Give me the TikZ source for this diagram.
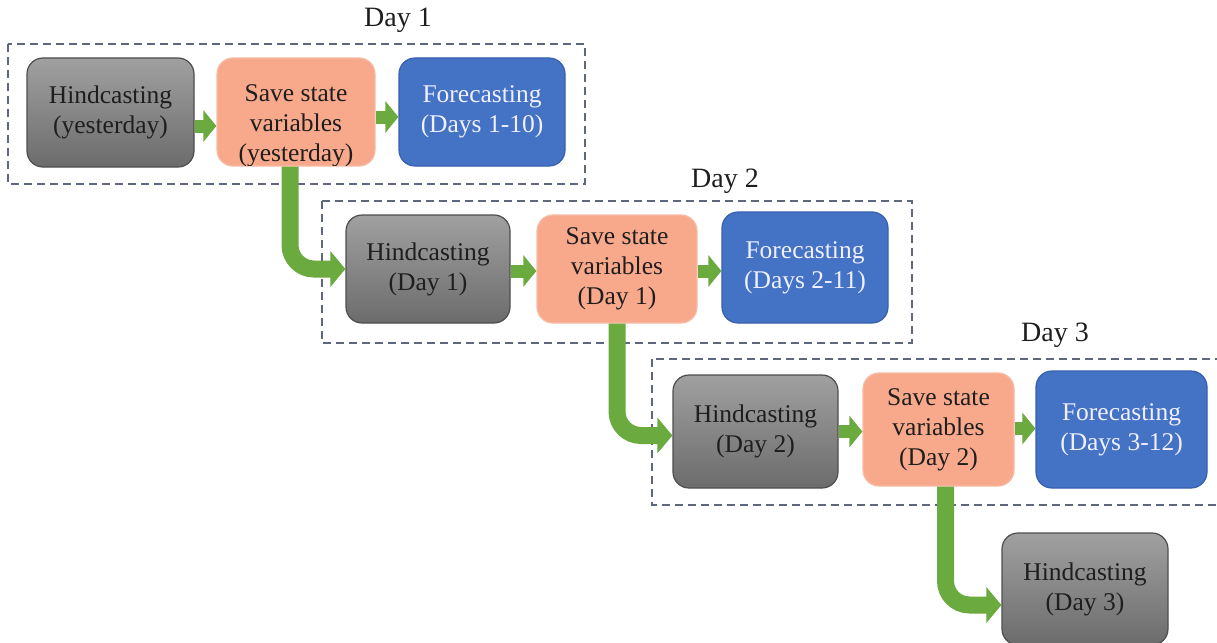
\documentclass[tikz,border=0pt]{standalone}
\usepackage{fontspec}
\setmainfont{Liberation Serif}
\usetikzlibrary{arrows.meta}

\definecolor{hindtop}{HTML}{A0A0A0}
\definecolor{hindbot}{HTML}{6C6C6C}
\definecolor{hindline}{HTML}{4E4E4E}
\definecolor{savefill}{HTML}{F8A98B}
\definecolor{saveline}{HTML}{F6BCA4}
\definecolor{forefill}{HTML}{4472C4}
\definecolor{foreline}{HTML}{3560AE}
\definecolor{flowgreen}{HTML}{6BAA3F}
\definecolor{frameline}{HTML}{5E6680}
\definecolor{inktext}{HTML}{1E1E1E}

\tikzset{
  box/.style={rounded corners=16pt, line width=1.2pt, align=center, inner sep=0pt,
    font=\fontsize{25.5}{30}\selectfont, text=inktext},
  hind/.style={box, draw=hindline, top color=hindtop, bottom color=hindbot},
  save/.style={box, draw=saveline, fill=savefill},
  fore/.style={box, draw=foreline, fill=forefill, text=white!94!blue},
  plain/.style={align=center, inner sep=0pt, font=\fontsize{25.5}{30}\selectfont, text=inktext},
  frame/.style={draw=frameline, line width=1.8pt, dash pattern=on 8pt off 5pt},
  daylabel/.style={font=\fontsize{28}{32}\selectfont, text=inktext, inner sep=0pt},
  link/.style={draw=flowgreen, line width=13pt, -{Triangle[width=31pt,length=13pt]}},
  carry/.style={draw=flowgreen, line width=17pt, rounded corners=24pt,
    -{Triangle[width=35pt,length=15pt]}}
}

\begin{document}
\begin{tikzpicture}[x=1pt, y=-1pt]
  \clip (0,0) rectangle (1217,642);
  \fill[white] (0,0) rectangle (1217,642);

  % dashed day frames
  \draw[frame] (8,44) rectangle (585,184);
  \draw[frame] (322,201) rectangle (912,343);
  \draw[frame] (652,359) rectangle (1240,505);

  \node[daylabel] (d1) at (398,20) {Day 1};
  \node[daylabel] (d2) at (725,181) {Day 2};
  \node[daylabel] (d3) at (1055,335) {Day 3};

  % day 1
  \node[hind, minimum width=167pt, minimum height=109pt] (h1) at (110.5,112.5) {Hindcasting\\(yesterday)};
  \node[save, minimum width=158pt, minimum height=108pt] (s1) at (296,112) {};
  \begin{scope}
    \clip[rounded corners=15pt] ([shift={(1pt,-1pt)}]s1.north west) rectangle ([shift={(-1pt,1pt)}]s1.south east);
    \node[plain] (s1text) at ([yshift=-14pt]s1.center) {Save state\\variables\\(yesterday)};
  \end{scope}
  \node[fore, minimum width=166pt, minimum height=108pt] (f1) at (482,112) {Forecasting\\(Days 1-10)};

  % day 2
  \node[hind, minimum width=164pt, minimum height=108pt] (h2) at (428,269) {Hindcasting\\(Day 1)};
  \node[save, minimum width=160pt, minimum height=108pt] (s2) at (617,269) {Save state\\variables\\(Day 1)};
  \node[fore, minimum width=166pt, minimum height=111pt] (f2) at (805,267.5) {Forecasting\\(Days 2-11)};

  % day 3
  \node[hind, minimum width=165pt, minimum height=113pt] (h3) at (755.5,431.5) {Hindcasting\\(Day 2)};
  \node[save, minimum width=151pt, minimum height=113pt] (s3) at (938.5,429.5) {Save state\\variables\\(Day 2)};
  \node[fore, minimum width=171pt, minimum height=117pt] (f3) at (1121.5,429.5) {Forecasting\\(Days 3-12)};

  % next day
  \node[hind, minimum width=166pt, minimum height=112pt] (h4) at (1085,589) {Hindcasting\\(Day 3)};

  % steps within a day
  \path ([yshift=-13.5pt]h1.east) coordinate (a1)
        ([yshift=-5pt]s1.east) coordinate (a2)
        ([yshift=-2pt]h2.east) coordinate (a3)
        ([yshift=-2pt]s2.east) coordinate (a4)
        (h3.east) coordinate (a5)
        ([yshift=1pt]s3.east) coordinate (a6);
  \draw[link] (a1) -- (a1 -| s1.west);
  \draw[link] (a2) -- (a2 -| f1.west);
  \draw[link] (a3) -- (a3 -| s2.west);
  \draw[link] (a4) -- (a4 -| f2.west);
  \draw[link] (a5) -- (a5 -| s3.west);
  \draw[link] (a6) -- (a6 -| f3.west);

  % saved state carried into the next day's hindcast
  \draw[carry] ([xshift=-6pt]s1.south) |- (h2.west);
  \draw[carry] (s2.south) |- ([yshift=-4pt]h3.west);
  \draw[carry] ([xshift=7pt]s3.south) |- ([yshift=-16pt]h4.west);
\end{tikzpicture}
\end{document}
